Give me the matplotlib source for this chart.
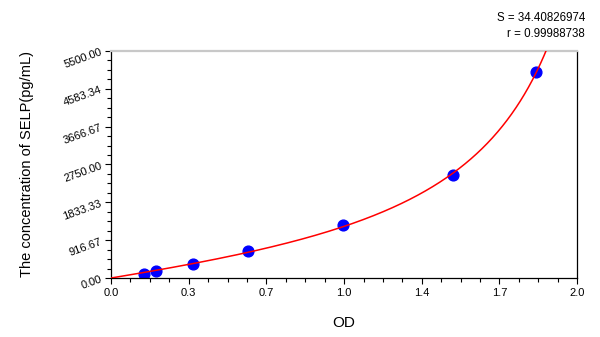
import matplotlib
matplotlib.use("Agg")

import numpy as np
import matplotlib.pyplot as plt
from matplotlib.ticker import AutoMinorLocator

# standards
od = [0.143, 0.193, 0.352, 0.587, 0.997, 1.468, 1.823]
conc = [100, 175, 335, 650, 1275, 2500, 4980]

x_ticks = [0.0, 1 / 3, 2 / 3, 1.0, 4 / 3, 5 / 3, 2.0]
x_labels = ["0.0", "0.3", "0.7", "1.0", "1.4", "1.7", "2.0"]
y_ticks = [0, 916.67, 1833.33, 2750.0, 3666.67, 4583.34, 5500.0]
y_labels = ["0.00", "916.67", "1833.33", "2750.00", "3666.67", "4583.34", "5500.00"]

fit_s = "S = 34.40826974"
fit_r = "r = 0.99988738"


def fit_rational(x, y):
    # y = p1*x / (1 + q1*x + q2*x^2), linearised least squares (through origin)
    x = np.asarray(x, float)
    y = np.asarray(y, float)
    A = np.column_stack([x, -x * y, -x * x * y])
    p, *_ = np.linalg.lstsq(A, y, rcond=None)
    return p


p = fit_rational(od, conc)
xs = np.linspace(0, 1.99, 800)
den = 1 + p[1] * xs + p[2] * xs ** 2
ys = p[0] * xs / den
ys[np.cumsum(den <= 0) > 0] = np.nan

plt.rcParams["font.family"] = ["Liberation Sans", "DejaVu Sans"]

fig = plt.figure(figsize=(6, 3.37), dpi=100)
ax = fig.add_axes([0.185, 0.175, 0.777, 0.674])

ax.scatter(od, conc, s=60, color="#0000ff", zorder=2)
ax.plot(xs, ys, color="#ff0000", lw=1.1, zorder=3)

ax.set_xlim(0, 2.0)
ax.set_ylim(0, 5500)
ax.set_xticks(x_ticks)
ax.set_xticklabels(x_labels, fontsize=8)
ax.set_yticks(y_ticks)
ax.set_yticklabels(y_labels, fontsize=8, rotation=20,
                   ha="right", rotation_mode="anchor")
ax.xaxis.set_minor_locator(AutoMinorLocator(4))
ax.yaxis.set_minor_locator(AutoMinorLocator(4))
ax.tick_params(which="major", length=4, width=0.8, pad=3)
ax.tick_params(which="minor", length=3, width=0.8)

for side in ("left", "bottom", "right"):
    ax.spines[side].set_linewidth(0.9)
ax.spines["top"].set_color("#c8c8c8")
ax.spines["top"].set_linewidth(1.6)

ax.set_xlabel("OD", fontsize=11, labelpad=13)
ax.set_ylabel("The concentration of SELP(pg/mL)", fontsize=10.5, labelpad=20)

fig.text(0.975, 0.948, fit_s, ha="right", va="center", fontsize=8.3)
fig.text(0.975, 0.900, fit_r, ha="right", va="center", fontsize=8.3)

fig.savefig("out.png", dpi=100)
